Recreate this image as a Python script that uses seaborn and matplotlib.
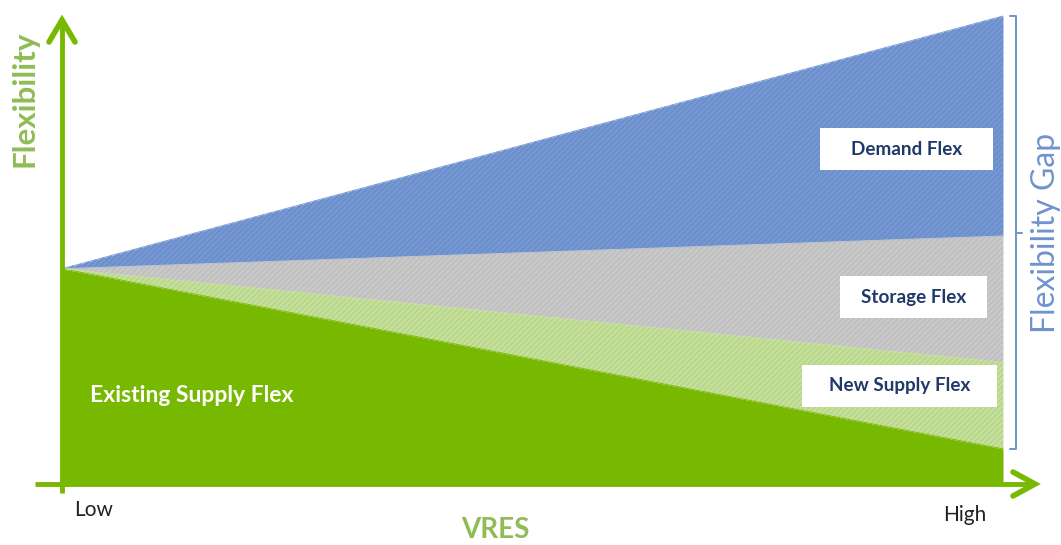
import numpy as np
import pandas as pd
import matplotlib
matplotlib.use("Agg")
import matplotlib.pyplot as plt
import seaborn as sns

# VRES share (Low -> High) and stacked flexibility contributions
vres = [0.0, 1.0]
vres_labels = ["Low", "High"]
existing_supply = [0.46, 0.075]
new_supply = [0.0, 0.185]
storage = [0.0, 0.27]
demand = [0.0, 0.47]

layer_names = ["Existing Supply Flex", "New Supply Flex", "Storage Flex", "Demand Flex"]
layer_colors = ["#77b800", "#c6e09c", "#c9c9c9", "#7598d3"]
hatch_colors = ["#77b800", "#b4d486", "#bdbdbd", "#6a8dca"]

sns.set_theme(style="white")
plt.rcParams["font.family"] = ["Lato", "DejaVu Sans"]

W, H = 1061, 545
fig = plt.figure(figsize=(W / 100, H / 100), dpi=100)
ax = fig.add_axes([0, 0, 1, 1])

# pixel geometry of the plotting frame
x0_px, x1_px = 62, 1003
y0_px = 484
ppu_x = x1_px - x0_px
ppu_y = 468
ax.set_xlim(-x0_px / ppu_x, (W - x0_px) / ppu_x)
ax.set_ylim(-(H - y0_px) / ppu_y, y0_px / ppu_y)
ax.axis("off")

df = pd.DataFrame({"vres": vres, "existing": existing_supply, "new": new_supply,
                   "storage": storage, "demand": demand})
stack = np.vstack([df["existing"], df["new"], df["storage"], df["demand"]])
cum = np.cumsum(stack, axis=0)
lower = np.vstack([np.zeros(len(vres)), cum[:-1]])

for i in range(len(layer_names)):
    ax.fill_between(df["vres"], lower[i], cum[i], color=layer_colors[i], lw=0, zorder=2)
    if i > 0:
        ax.fill_between(df["vres"], lower[i], cum[i], facecolor="none",
                        edgecolor=hatch_colors[i], hatch="//////", lw=0, zorder=2.1)
    sns.lineplot(x=df["vres"], y=cum[i], ax=ax, color=layer_colors[i], lw=0.6,
                 zorder=2.2, legend=False)

green = "#77b800"
# axis shafts
ax.plot([0, 0], [-9 / ppu_y, (y0_px - 21) / ppu_y], color=green, lw=3.5,
        solid_capstyle="butt", zorder=3)
ax.plot([(35 - x0_px) / ppu_x, (1033 - x0_px) / ppu_x], [0, 0], color=green, lw=3.5,
        solid_capstyle="butt", zorder=3)

def chevron(tip, d1, d2):
    xs = [tip[0] + d1[0] / ppu_x, tip[0], tip[0] + d2[0] / ppu_x]
    ys = [tip[1] + d1[1] / ppu_y, tip[1], tip[1] + d2[1] / ppu_y]
    ax.plot(xs, ys, color=green, lw=4, solid_capstyle="round", solid_joinstyle="miter", zorder=3)

chevron((0, (y0_px - 20) / ppu_y), (-13, -22), (13, -22))
chevron(((1035 - x0_px) / ppu_x, 0), (-22, 12), (-22, -12))

# axis labels
ax.text(vres[0] + 12 / ppu_x, -26 / ppu_y, vres_labels[0], fontsize=15, color="#222222",
        ha="left", va="center")
ax.text(vres[1] - 38 / ppu_x, -31 / ppu_y, vres_labels[1], fontsize=15, color="#222222",
        ha="center", va="center")
ax.text((495 - x0_px) / ppu_x, -(530 - y0_px) / ppu_y, "VRES", fontsize=20, color="#8fbc55",
        fontweight="bold", ha="center", va="center")
ax.text(-(37 / ppu_x), (y0_px - 99) / ppu_y, "Flexibility", fontsize=22.5, color="#8fbc55",
        fontweight="bold", rotation=90, ha="center", va="center")

# bracket spanning the flexibility gap
bx = (1010 - x0_px) / ppu_x
bw = 6 / ppu_x
top = cum[-1][-1]
bot = existing_supply[-1]
mid = (y0_px - 233) / ppu_y
brace_color = "#6f93cd"
ax.plot([bx, bx + bw, bx + bw, bx], [top, top, bot, bot], color=brace_color, lw=1.4, zorder=3)
ax.plot([bx + bw, bx + 2 * bw], [mid, mid], color=brace_color, lw=1.4, zorder=3)
ax.text((1046 - x0_px) / ppu_x, mid, "Flexibility Gap", fontsize=23, color=brace_color,
        rotation=90, ha="center", va="center")

# layer labels
ax.text((90 - x0_px) / ppu_x, (y0_px - 395) / ppu_y, layer_names[0], fontsize=16.5,
        color="white", fontweight="bold", ha="left", va="center", zorder=4)

box_specs = [
    (layer_names[3], 820, 993, 128, 170),
    (layer_names[2], 840, 987, 276, 318),
    (layer_names[1], 802, 997, 365, 407),
]
for name, xl, xr, yt, yb in box_specs:
    ax.fill_between([(xl - x0_px) / ppu_x, (xr - x0_px) / ppu_x],
                    (y0_px - yb) / ppu_y, (y0_px - yt) / ppu_y, color="white", lw=0, zorder=3)
    ax.text(((xl + xr) / 2 - x0_px) / ppu_x, (y0_px - (yt + yb) / 2) / ppu_y, name,
            fontsize=13.6, color="#1f3a68", fontweight="bold", ha="center", va="center", zorder=4)

fig.savefig("out.png", dpi=100, facecolor="white")
